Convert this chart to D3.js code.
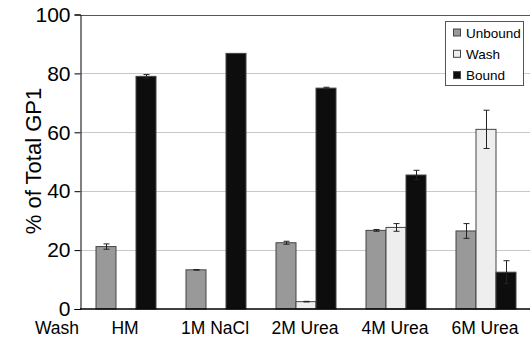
<!DOCTYPE html>
<html>
<head>
<meta charset="utf-8">
<script src="https://cdn.jsdelivr.net/npm/d3@7"></script>
<style>
  html, body { margin: 0; padding: 0; background: #fff; }
  svg { display: block; font-family: "Liberation Sans", Arial, sans-serif; }
</style>
</head>
<body>
<svg id="chart" width="530" height="341"></svg>
<script>
// Wash conditions along the x axis
const categories = ["HM", "1M NaCl", "2M Urea", "4M Urea", "6M Urea"];
const seriesNames = ["Unbound", "Wash", "Bound"];
const seriesColors = ["#999999", "#eeeeee", "#0d0d0d"];

// % of total GP1 per fraction, with error half-widths
const unbound    = [21.2, 13.3, 22.5, 26.7, 26.5];
const unboundErr = [0.9, 0.1, 0.5, 0.3, 2.5];
const wash       = [null, null, 2.5, 27.7, 61.0];
const washErr    = [null, null, 0.1, 1.3, 6.5];
const bound      = [79.0, 86.8, 75.0, 45.5, 12.5];
const boundErr   = [0.6, 0.0, 0.3, 1.6, 3.9];

const yTicks = [0, 20, 40, 60, 80, 100];

const values = [unbound, wash, bound];
const errors = [unboundErr, washErr, boundErr];

const svg = d3.select("#chart");

const x0 = d3.scaleBand().domain(categories).range([81, 531]).paddingInner(0).paddingOuter(0);
const x1 = d3.scaleBand().domain(seriesNames).range([0, x0.bandwidth()]).paddingInner(0).paddingOuter(0.75);
const y = d3.scaleLinear().domain([0, 100]).range([309, 14.5]);

// light gridlines
svg.append("g").selectAll("line")
  .data(yTicks.filter(t => t > 0 && t < 100))
  .join("line")
  .attr("x1", 81).attr("x2", 530)
  .attr("y1", d => Math.round(y(d)) + 0.5).attr("y2", d => Math.round(y(d)) + 0.5)
  .attr("stroke", "#c8c8c8").attr("stroke-width", 1);

// top border
svg.append("line")
  .attr("x1", 81).attr("x2", 530)
  .attr("y1", Math.round(y(100)) + 0.5).attr("y2", Math.round(y(100)) + 0.5)
  .attr("stroke", "#555").attr("stroke-width", 1);

// bars
const rows = [];
categories.forEach((c, i) => {
  seriesNames.forEach((s, j) => {
    const v = values[j][i];
    if (v !== null) rows.push({ c, s, j, v, e: errors[j][i] });
  });
});

const g = svg.append("g");
g.selectAll("rect")
  .data(rows)
  .join("rect")
  .attr("x", d => x0(d.c) + x1(d.s))
  .attr("y", d => y(d.v))
  .attr("width", x1.bandwidth())
  .attr("height", d => y(0) - y(d.v))
  .attr("fill", d => seriesColors[d.j])
  .attr("stroke", "#444")
  .attr("stroke-width", 1);

// error bars
const eb = svg.append("g").attr("stroke", "#222").attr("stroke-width", 1);
rows.filter(d => d.e > 0).forEach(d => {
  const cx = Math.round(x0(d.c) + x1(d.s) + x1.bandwidth() / 2) + 0.5;
  const yTop = y(d.v + d.e), yBot = y(d.v - d.e);
  eb.append("line").attr("x1", cx).attr("x2", cx).attr("y1", yTop).attr("y2", yBot);
  eb.append("line").attr("x1", cx - 3).attr("x2", cx + 3).attr("y1", yTop).attr("y2", yTop);
  eb.append("line").attr("x1", cx - 3).attr("x2", cx + 3).attr("y1", yBot).attr("y2", yBot);
});

// y axis
const yAxis = svg.append("g")
  .attr("transform", "translate(80.5,0)")
  .call(d3.axisLeft(y).tickValues(yTicks).tickSize(6).tickPadding(4).tickFormat(d3.format("d")));
yAxis.select(".domain").attr("stroke", "#000");
yAxis.selectAll(".tick line").attr("stroke", "#000");
yAxis.selectAll(".tick text")
  .attr("font-family", "Liberation Sans, Arial, sans-serif")
  .attr("font-size", 21).attr("fill", "#000");

// x baseline
svg.append("line")
  .attr("x1", 80).attr("x2", 530)
  .attr("y1", y(0)).attr("y2", y(0))
  .attr("stroke", "#000").attr("stroke-width", 1.5);

// category labels
svg.append("g").selectAll("text")
  .data(categories)
  .join("text")
  .attr("x", d => x0(d) + x0.bandwidth() / 2 - 1)
  .attr("y", 334)
  .attr("text-anchor", "middle")
  .attr("font-size", 17.5)
  .text(d => d);

svg.append("text")
  .attr("x", 35).attr("y", 334)
  .attr("font-size", 17.5)
  .text("Wash");

// y axis title
svg.append("text")
  .attr("transform", "translate(41,161) rotate(-90)")
  .attr("text-anchor", "middle")
  .attr("font-size", 22)
  .text("% of Total GP1");

// legend
const lg = svg.append("g");
lg.append("rect")
  .attr("x", 445.5).attr("y", 21.5).attr("width", 78).attr("height", 64)
  .attr("fill", "#fff").attr("stroke", "#555");
seriesNames.forEach((s, j) => {
  const cy = 32.5 + j * 21.3;
  lg.append("rect")
    .attr("x", 453.5).attr("y", cy - 3.5).attr("width", 7).attr("height", 7)
    .attr("fill", seriesColors[j]).attr("stroke", "#444");
  lg.append("text")
    .attr("x", 466).attr("y", cy + 5)
    .attr("font-size", 13.5)
    .text(s);
});
</script>
</body>
</html>
